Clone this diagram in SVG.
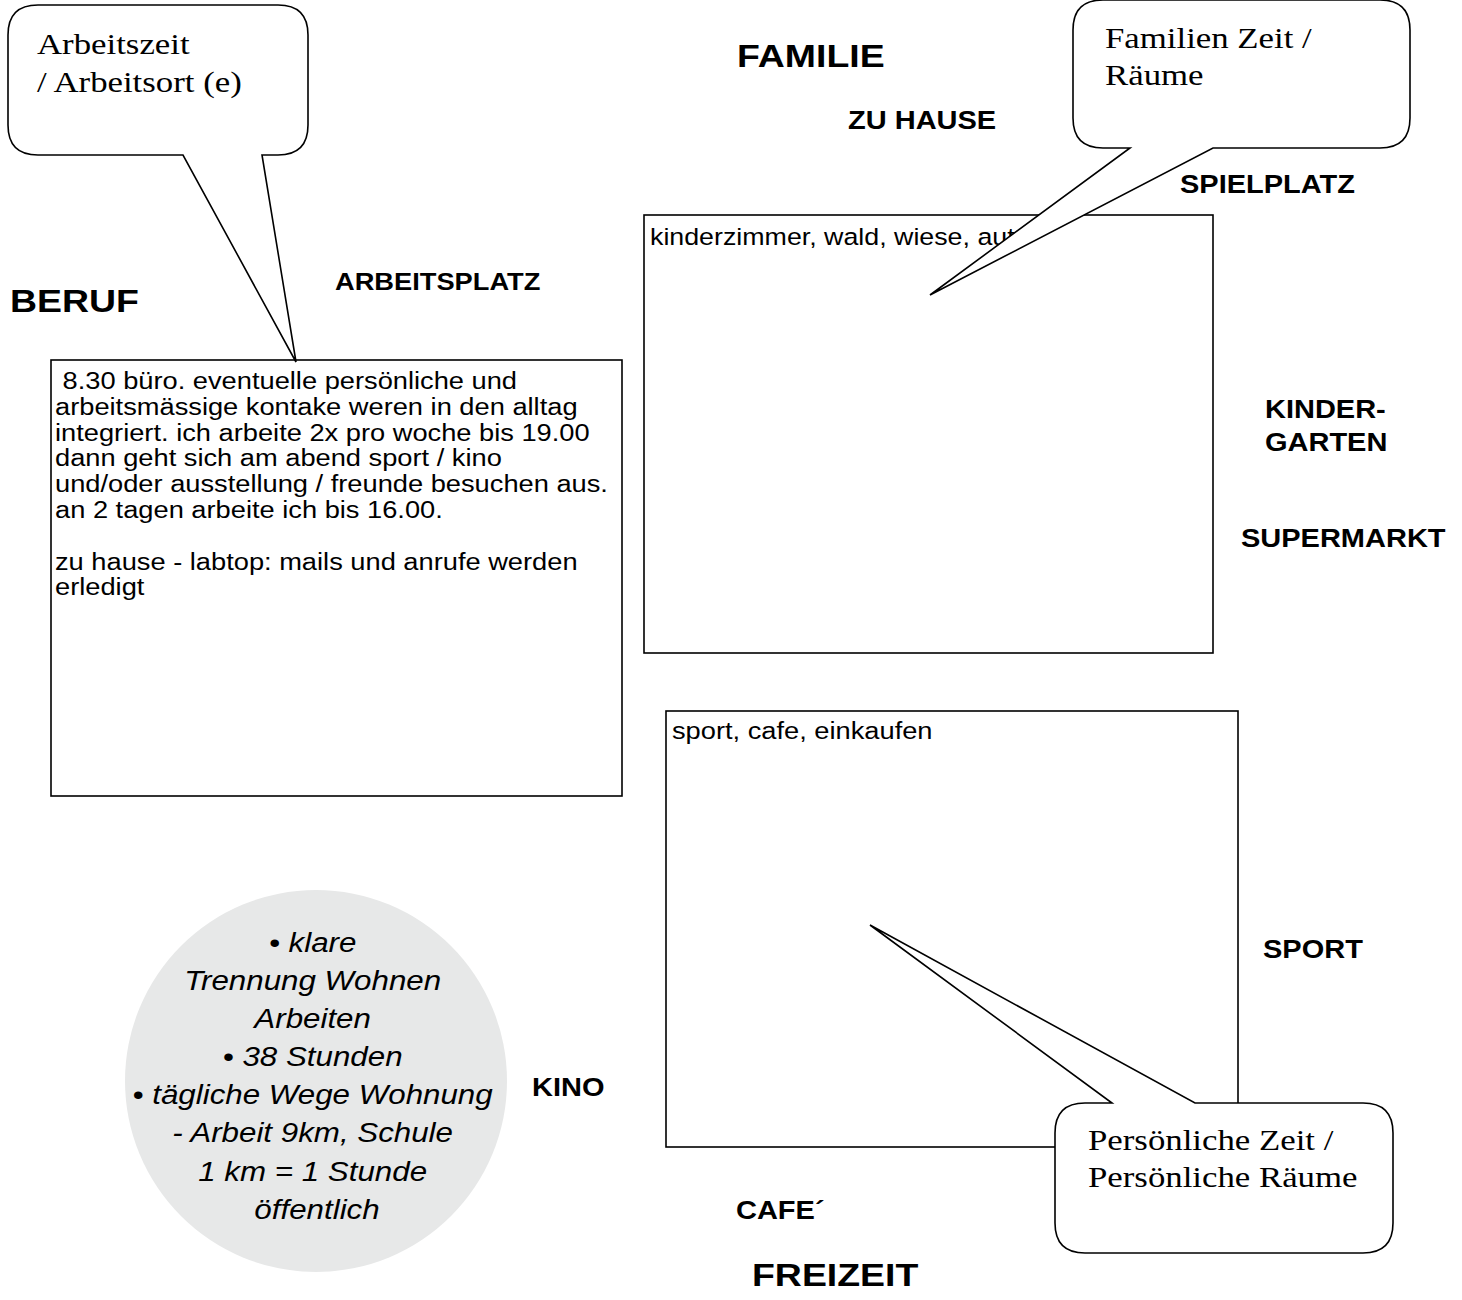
<svg xmlns="http://www.w3.org/2000/svg" width="1462" height="1300" viewBox="0 0 1462 1300">
  <style>
    .frame { fill: #ffffff; stroke: #000000; stroke-width: 1.6; }
    .bubble { fill: #ffffff; stroke: #000000; stroke-width: 1.6; stroke-linejoin: miter; }
    .disc { fill: #e7e8e8; stroke: none; }
    .body { font-family: "Liberation Sans", Arial, sans-serif; font-size: 23.5px; fill: #000000; }
    .note { font-family: "Liberation Serif", "Times New Roman", serif; font-size: 30px; fill: #000000; }
    .tag { font-family: "Liberation Sans", Arial, sans-serif; font-weight: bold; font-size: 25px; fill: #000000; }
    .head { font-family: "Liberation Sans", Arial, sans-serif; font-weight: bold; font-size: 32px; fill: #000000; }
    .facts { font-family: "Liberation Sans", Arial, sans-serif; font-style: italic; font-size: 27px; fill: #000000; text-anchor: middle; }
  </style>

  <rect width="1462" height="1300" fill="#ffffff"/>

  <!-- section headings and place tags -->
  <g id="headings">
    <text class="head" transform="translate(737 67) scale(1.17 1)">FAMILIE</text>
    <text class="head" transform="translate(10 312) scale(1.17 1)">BERUF</text>
    <text class="head" transform="translate(752 1286) scale(1.17 1)">FREIZEIT</text>
  </g>
  <g id="places">
    <text class="tag" transform="translate(848 129) scale(1.16 1)">ZU HAUSE</text>
    <text class="tag" transform="translate(1180 193) scale(1.16 1)">SPIELPLATZ</text>
    <text class="tag" style="font-size:23.5px" transform="translate(335 290) scale(1.16 1)">ARBEITSPLATZ</text>
    <text class="tag" transform="translate(1265 418) scale(1.16 1)">KINDER-</text>
    <text class="tag" transform="translate(1265 451) scale(1.16 1)">GARTEN</text>
    <text class="tag" transform="translate(1241 547) scale(1.16 1)">SUPERMARKT</text>
    <text class="tag" transform="translate(1263 958) scale(1.16 1)">SPORT</text>
    <text class="tag" transform="translate(532 1096) scale(1.16 1)">KINO</text>
    <text class="tag" transform="translate(736 1219) scale(1.16 1)">CAFE´</text>
  </g>

  <!-- work box -->
  <g id="box-beruf">
    <rect class="frame" x="51" y="360" width="571" height="436"/>
    <text class="body" transform="translate(55 389) scale(1.16 1)">
      <tspan x="0" y="0">&#160;8.30 büro. eventuelle persönliche und</tspan>
      <tspan x="0" y="25.8">arbeitsmässige kontake weren in den alltag</tspan>
      <tspan x="0" y="51.6">integriert. ich arbeite 2x pro woche bis 19.00</tspan>
      <tspan x="0" y="77.4">dann geht sich am abend sport / kino</tspan>
      <tspan x="0" y="103.2">und/oder ausstellung / freunde besuchen aus.</tspan>
      <tspan x="0" y="129">an 2 tagen arbeite ich bis 16.00.</tspan>
      <tspan x="0" y="180.6">zu hause - labtop: mails und anrufe werden</tspan>
      <tspan x="0" y="206.4">erledigt</tspan>
    </text>
  </g>

  <!-- family box -->
  <g id="box-familie">
    <rect class="frame" x="644" y="215" width="569" height="438"/>
    <text class="body" transform="translate(650 245) scale(1.14 1)">kinderzimmer, wald, wiese, aut</text>
  </g>

  <!-- leisure box -->
  <g id="box-freizeit">
    <rect class="frame" x="666" y="711" width="572" height="436"/>
    <text class="body" transform="translate(672 739) scale(1.16 1)">sport, cafe, einkaufen</text>
  </g>

  <!-- summary disc -->
  <g id="summary">
    <circle class="disc" cx="316" cy="1081" r="191"/>
    <text class="facts" transform="translate(317 952) scale(1.16 1)">
      <tspan x="0" y="0">• klare</tspan>
      <tspan x="0" y="38.1">Trennung Wohnen</tspan>
      <tspan x="0" y="76.2">Arbeiten</tspan>
      <tspan x="0" y="114.3">• 38 Stunden</tspan>
      <tspan x="0" y="152.4">• tägliche Wege Wohnung</tspan>
      <tspan x="0" y="190.5">- Arbeit 9km, Schule</tspan>
      <tspan x="0" y="228.6">1 km = 1 Stunde</tspan>
      <tspan x="0" y="266.7">öffentlich</tspan>
    </text>
  </g>

  <!-- speech bubbles, drawn last so their white fill sits over the boxes -->
  <g id="bubble-arbeit">
    <path class="bubble" d="M38,5 H278 Q308,5 308,35 V125 Q308,155 278,155 H262 L296,362 L183,155 H38 Q8,155 8,125 V35 Q8,5 38,5 Z"/>
    <text class="note" transform="translate(37 54) scale(1.16 1)">
      <tspan x="0" y="0">Arbeitszeit</tspan>
      <tspan x="0" y="38">/ Arbeitsort (e)</tspan>
    </text>
  </g>

  <g id="bubble-familie">
    <path class="bubble" d="M1103,0 H1380 Q1410,0 1410,30 V118 Q1410,148 1380,148 H1213 L930,295 L1130,148 H1103 Q1073,148 1073,118 V30 Q1073,0 1103,0 Z"/>
    <text class="note" transform="translate(1105 48) scale(1.16 1)">
      <tspan x="0" y="0">Familien Zeit /</tspan>
      <tspan x="0" y="37">Räume</tspan>
    </text>
  </g>

  <g id="bubble-persoenlich">
    <path class="bubble" d="M1085,1103 H1112 L870,925 L1195,1103 H1363 Q1393,1103 1393,1133 V1223 Q1393,1253 1363,1253 H1085 Q1055,1253 1055,1223 V1133 Q1055,1103 1085,1103 Z"/>
    <text class="note" transform="translate(1088 1150) scale(1.16 1)">
      <tspan x="0" y="0">Persönliche Zeit /</tspan>
      <tspan x="0" y="37">Persönliche Räume</tspan>
    </text>
  </g>
</svg>
